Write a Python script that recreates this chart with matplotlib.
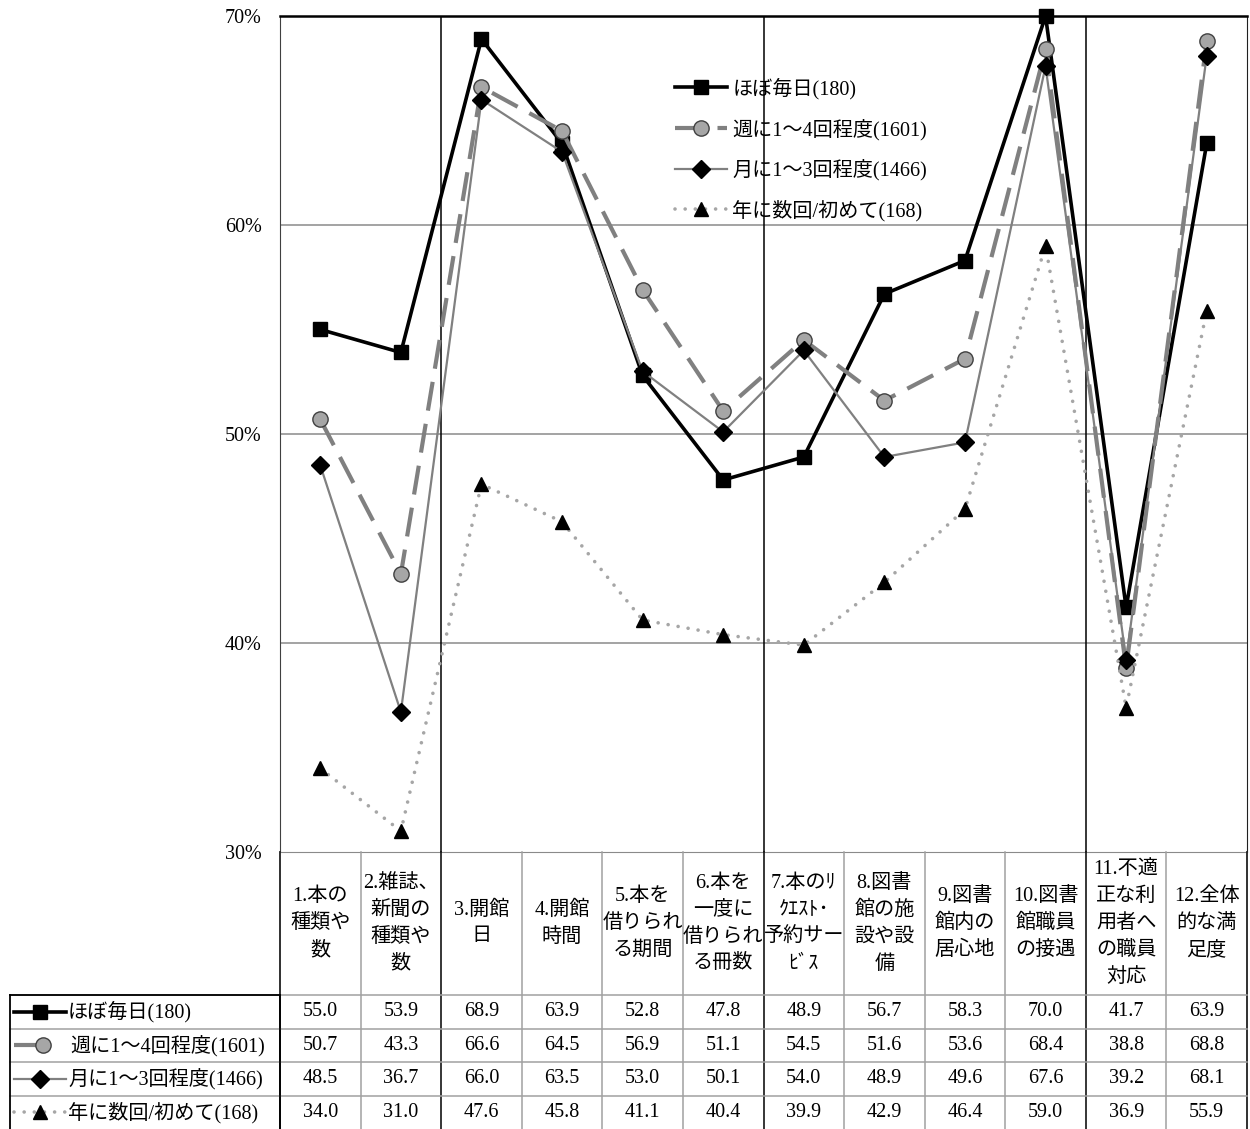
import matplotlib
matplotlib.use('Agg')
import matplotlib.pyplot as plt
from matplotlib.font_manager import FontProperties

# ---------------- data ----------------
categories = [
    "1.本の\n種類や\n数",
    "2.雑誌、\n新聞の\n種類や\n数",
    "3.開館\n日",
    "4.開館\n時間",
    "5.本を\n借りられ\nる期間",
    "6.本を\n一度に\n借りられ\nる冊数",
    "7.本のﾘ\nｸｴｽﾄ･\n予約サー\nﾋﾞｽ",
    "8.図書\n館の施\n設や設\n備",
    "9.図書\n館内の\n居心地",
    "10.図書\n館職員\nの接遇",
    "11.不適\n正な利\n用者へ\nの職員\n対応",
    "12.全体\n的な満\n足度",
]
series_names = ["ほぼ毎日(180)", "週に1～4回程度(1601)", "月に1～3回程度(1466)", "年に数回/初めて(168)"]
daily = [55.0, 53.9, 68.9, 63.9, 52.8, 47.8, 48.9, 56.7, 58.3, 70.0, 41.7, 63.9]
weekly = [50.7, 43.3, 66.6, 64.5, 56.9, 51.1, 54.5, 51.6, 53.6, 68.4, 38.8, 68.8]
monthly = [48.5, 36.7, 66.0, 63.5, 53.0, 50.1, 54.0, 48.9, 49.6, 67.6, 39.2, 68.1]
yearly = [34.0, 31.0, 47.6, 45.8, 41.1, 40.4, 39.9, 42.9, 46.4, 59.0, 36.9, 55.9]
yticks = [30, 40, 50, 60, 70]
ytick_labels = ["30%", "40%", "50%", "60%", "70%"]

series = [daily, weekly, monthly, yearly]

# ---------------- styles ----------------
FAM = ['Liberation Serif', 'Noto Sans CJK JP']
FS = 14.5
styles = [
    dict(color='black', lw=2.6, ls='-', marker='s', ms=9.5, mfc='black', mec='black'),
    dict(color='#808080', lw=3.0, ls=(0, (7, 3.2)), marker='o', ms=11, mfc='#a6a6a6', mec='#404040', mew=1.0),
    dict(color='#808080', lw=1.6, ls='-', marker='D', ms=9, mfc='black', mec='black'),
    dict(color='#a6a6a6', lw=2.6, ls=(0, (0.01, 2.8)), dash_capstyle='round', marker='^', ms=10, mfc='black', mec='black'),
]

W, H = 1250, 1129
fig = plt.figure(figsize=(W / 100, H / 100), dpi=100)

X0, X1 = 280, 1247          # plot / table column span (px)
YT, YB = 16, 852            # plot top / bottom (px)
HB = 995                    # header bottom (px)
ROWH = (H - HB) / 4.0
ncat = len(categories)
colw = (X1 - X0) / ncat

ax = fig.add_axes([X0 / W, 1 - YB / H, (X1 - X0) / W, (YB - YT) / H])
ax.set_xlim(-0.5, ncat - 0.5)
ax.set_ylim(yticks[0], yticks[-1])
ax.set_xticks([])
ax.set_yticks(yticks)
ax.set_yticklabels(ytick_labels, fontfamily=FAM, fontsize=FS)
ax.tick_params(axis='y', length=0, pad=13)
for y in yticks[1:-1]:
    ax.axhline(y, color='#8a8a8a', lw=1.1, zorder=1)
for xb in [1.5, 5.5, 9.5]:
    ax.axvline(xb, color='black', lw=1.1, zorder=1.5)
ax.spines['top'].set_linewidth(1.8)
ax.spines['top'].set_color('black')
ax.spines['left'].set_color('#404040')
ax.spines['right'].set_color('#202020')
ax.spines['bottom'].set_color('#8a8a8a')

xs = list(range(ncat))
handles = []
for vals, st, name in zip(series, styles, series_names):
    ln, = ax.plot(xs, vals, label=name, clip_on=False, zorder=3, **st)
    handles.append(ln)

ax.legend(handles, series_names, loc='upper left',
          bbox_to_anchor=(675 / W, 1 - 78 / H), bbox_transform=fig.transFigure,
          frameon=False, borderpad=0, borderaxespad=0, handlelength=2.6,
          handletextpad=0.25, labelspacing=0.95,
          prop=FontProperties(family=FAM, size=FS))

# ---------------- table (pixel-coordinate overlay) ----------------
tb = fig.add_axes([0, 0, 1, 1], zorder=5)
tb.set_xlim(0, W)
tb.set_ylim(H, 0)
tb.axis('off')
tb.patch.set_alpha(0)

GRAY = '#a0a0a0'
edges = [X0 + i * colw for i in range(ncat + 1)]
for i, xe in enumerate(edges):
    if i in (2, 6, 10):
        tb.plot([xe, xe], [YB, H], color='black', lw=1.1)
    elif i in (0, ncat):
        tb.plot([xe, xe], [YB, H], color='#202020', lw=1.3)
    else:
        tb.plot([xe, xe], [YB, H], color=GRAY, lw=1.1)
for r in range(4):
    yl = HB + r * ROWH
    tb.plot([10, X1], [yl, yl], color=GRAY, lw=1.1)
tb.plot([10, X0], [HB, HB], color='black', lw=1.3)
tb.plot([10, 10], [HB, H], color='black', lw=1.3)
tb.plot([X0, X0], [HB, H], color='black', lw=1.3)

# header labels, each line placed separately
hc = (YB + HB) / 2.0
LS = 27.0
for i, lab in enumerate(categories):
    lines = lab.split("\n")
    n = len(lines)
    cx = X0 + (i + 0.5) * colw
    for k, t in enumerate(lines):
        yy = hc + (k - (n - 1) / 2.0) * LS
        tb.text(cx, yy, t, ha='center', va='center', fontfamily=FAM, fontsize=FS)

# data rows
for r, (vals, st, name) in enumerate(zip(series, styles, series_names)):
    yc = HB + (r + 0.5) * ROWH
    if r == 1:
        tb.plot([14, 43], [yc, yc], markevery=[1], **st)
        tx = 70
    else:
        tb.plot([14, 40, 66], [yc, yc, yc], markevery=[1], **st)
        tx = 68
    tb.text(tx, yc, name, ha='left', va='center', fontfamily=FAM, fontsize=FS)
    for i, v in enumerate(vals):
        cx = X0 + (i + 0.5) * colw
        tb.text(cx, yc, f"{v:.1f}", ha='center', va='center', fontfamily=FAM, fontsize=FS)

fig.savefig('out.png', dpi=100)
